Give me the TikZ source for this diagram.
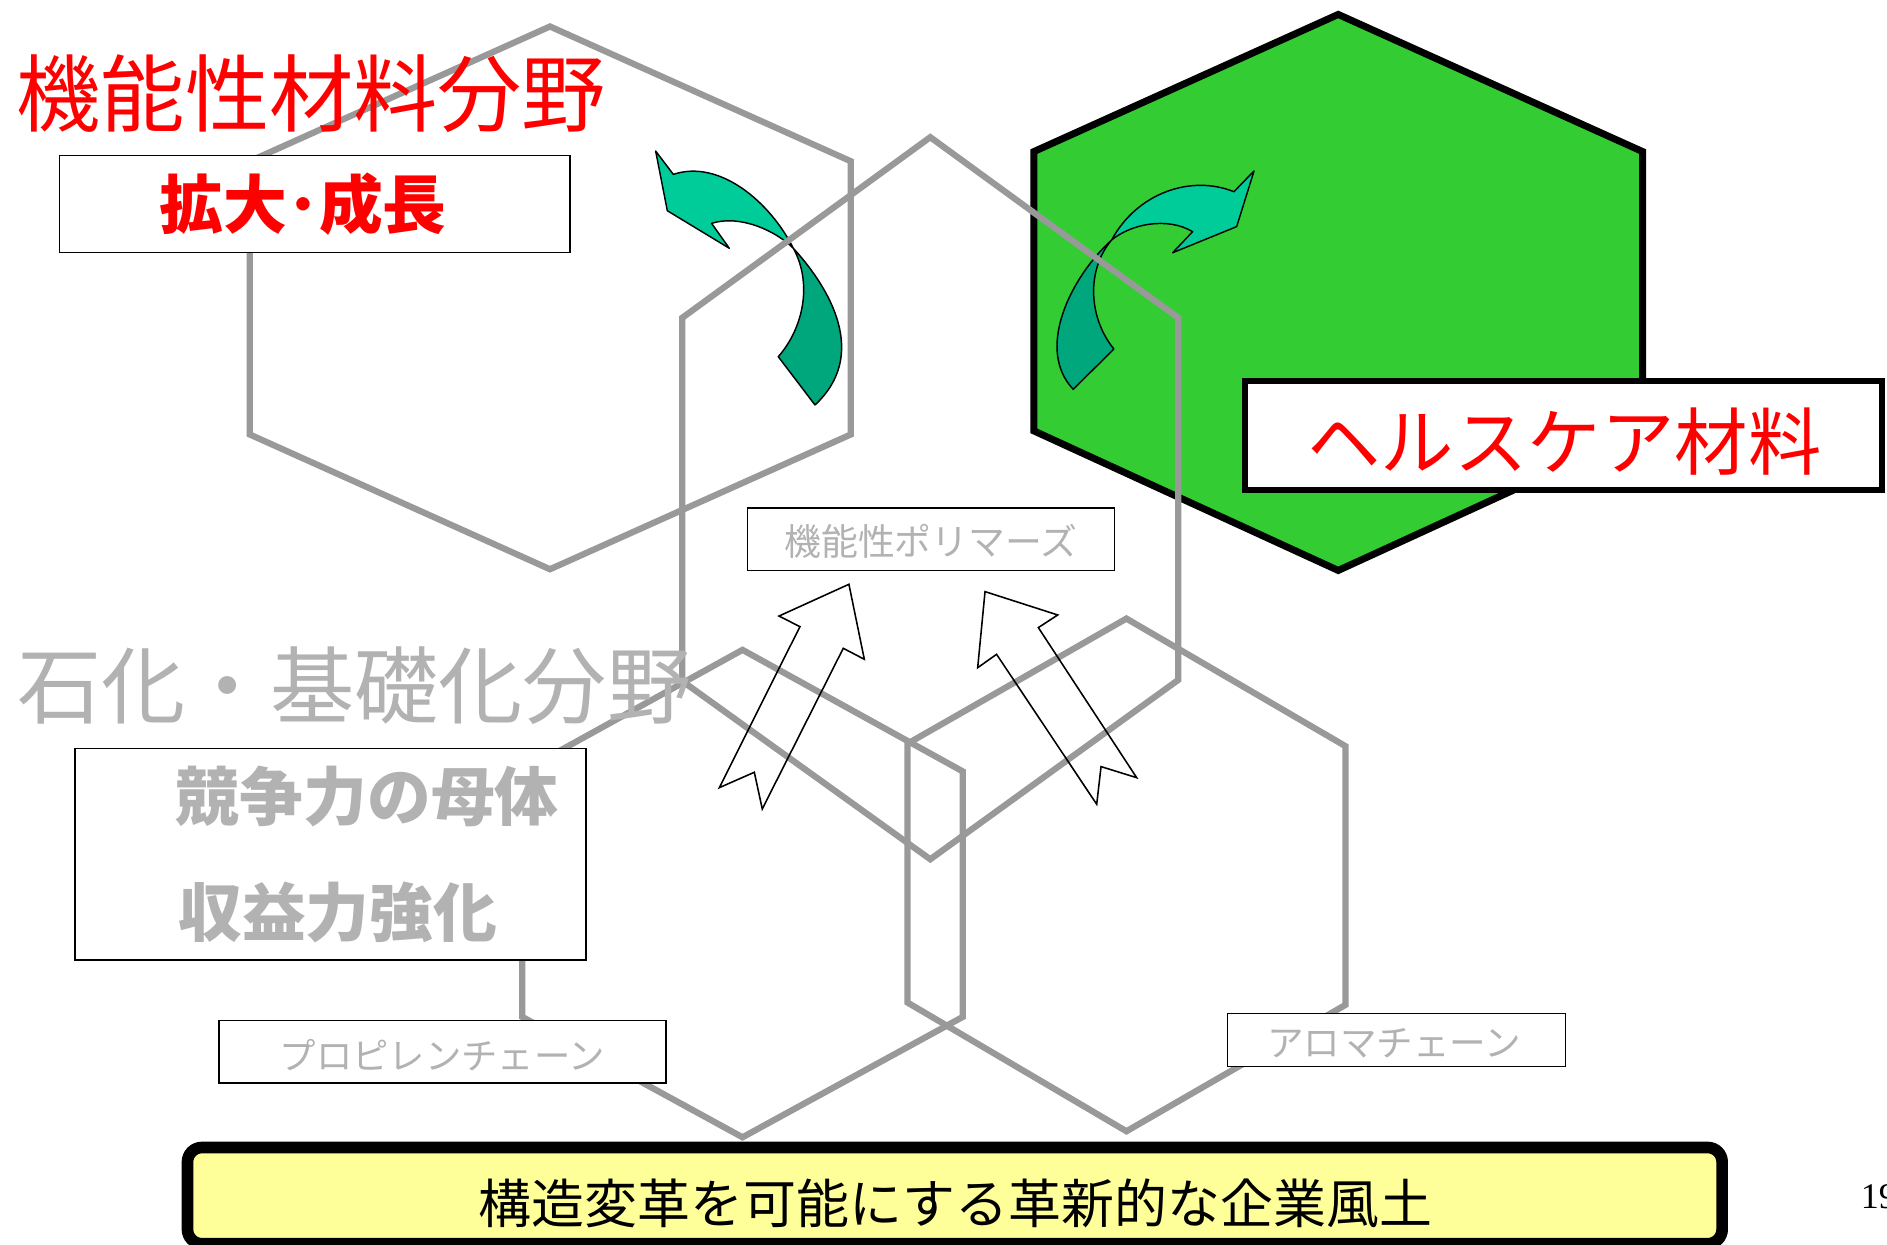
\documentclass[tikz,border=0pt]{standalone}
\usepackage{fontspec}
\setmainfont{Noto Sans CJK JP}
\newfontfamily\numfont{Liberation Serif}
\newcommand\myfs[1]{\fontsize{#1pt}{#1pt}\selectfont}
\definecolor{hexg}{HTML}{999999}
\definecolor{txtg}{HTML}{B2B2B2}
\definecolor{grn}{HTML}{33CC33}
\definecolor{tealL}{HTML}{00CC99}
\definecolor{tealD}{HTML}{00A67C}
\definecolor{yel}{HTML}{FFFF99}
\begin{document}
\begin{tikzpicture}[x=1pt,y=-1pt,
  hexline/.style={draw=hexg, line width=5.2pt, line join=miter, miter limit=10},
  thinbox/.style={draw=black, line width=1.2pt, fill=white, inner sep=0pt},
  graytxt/.style={text=txtg, inner sep=0pt},
  redtxt/.style={text=red, inner sep=0pt},
  tealarrow/.style={draw=black, line width=1.2pt, line join=round},
  hollowarrow/.style={draw=black, line width=1.3pt, line join=miter}]
\useasboundingbox (0,0) rectangle (1568,1034);

% green hexagon
\draw[fill=grn, draw=black, line width=5.8pt, line join=miter]
  (1112,12) -- (1365,126) -- (1365,358) -- (1112,474) -- (859,358) -- (859,126) -- cycle;

% teal curved arrows
\draw[tealarrow, fill=tealL] (544.8,125.5) -- (559.5,144.9)
  .. controls (598,132) and (640,168) .. (659.2,206.3)
  .. controls (645,192) and (615,178) .. (591.3,185.6)
  -- (606,206.3) -- (554.5,175.1) -- cycle;
\draw[tealarrow, fill=tealD] (659.2,206.3)
  .. controls (690,240) and (722,295) .. (677.2,336.5)
  -- (646.7,296.4)
  .. controls (668,272) and (675,235) .. (659.2,206.3) -- cycle;

\draw[tealarrow, fill=tealL] (1042,142.1) -- (1025.3,159.3)
  .. controls (990,145) and (945,160) .. (923.7,199.4)
  .. controls (940,186) and (970,180) .. (991,192.5)
  -- (974.4,210) -- (1027.6,188.3) -- cycle;
\draw[tealarrow, fill=tealD] (923.7,199.4)
  .. controls (890,230) and (860,290) .. (891.8,323.5)
  -- (925.6,290)
  .. controls (905,265) and (902,225) .. (923.7,199.4) -- cycle;

% gray hexagons
\draw[hexline] (457,22) -- (707,134) -- (707,361) -- (457,473) -- (207.5,361) -- (207.5,134) -- cycle;
\draw[hexline] (773,114) -- (979,264) -- (979,565) -- (773,714) -- (567,566) -- (567,264) -- cycle;
\draw[hexline] (617,540) -- (800,641) -- (800,845) -- (617,945) -- (434,845) -- (434,641) -- cycle;
\draw[hexline] (936,514) -- (1118,620) -- (1118,835) -- (936,940) -- (754,833) -- (754,618) -- cycle;

% hollow arrows
\draw[hollowarrow] (705.4,485.5) -- (718.2,547.8) -- (700.7,538.7) -- (633.4,672.2)
  -- (626.8,641.7) -- (597.7,654.5) -- (664.7,520.7) -- (647.3,511.9) -- cycle;
\draw[hollowarrow] (818.5,491.6) -- (878.9,511) -- (862.8,521.5) -- (944.5,646.2)
  -- (914.9,637) -- (911.3,668.3) -- (828.1,543.7) -- (812.4,554.8) -- cycle;

% titles
\node[redtxt, font=\myfs{70}] (title1) at (258.75,78) {機能性材料分野};
\node[graytxt, font=\myfs{70}] (title2) at (294.5,570) {石化・基礎化分野};

% boxes
\node[thinbox, minimum width=424pt, minimum height=80.5pt] (kbox) at (261.6,169.6) {};
\node[redtxt, font=\myfs{53}\bfseries] (ktxt) at (252,170) {拡大･成長};

\node[draw=black, fill=white, line width=5pt, inner sep=0pt,
      minimum width=529pt, minimum height=91pt] (hbox) at (1299,361.75) {};
\node[redtxt, font=\myfs{61}] (htxt) at (1300,367) {ヘルスケア材料};

\node[thinbox, minimum width=305pt, minimum height=52pt] (pbox) at (773.45,448) {};
\node[graytxt, font=\myfs{30.6}] (ptxt) at (773.5,450) {機能性ポリマーズ};

\node[thinbox, minimum width=424.5pt, minimum height=176pt] (sbox) at (274.7,709.75) {};
\node[graytxt, font=\myfs{53}\bfseries, anchor=west] (stxt1) at (146,661.5) {競争力の母体};
\node[graytxt, font=\myfs{53}\bfseries, anchor=west] (stxt2) at (148,757.8) {収益力強化};

\node[thinbox, minimum width=371.5pt, minimum height=52pt] (prbox) at (367.65,873.9) {};
\node[graytxt, font=\myfs{30.2}] (prtxt) at (367.6,876.5) {プロピレンチェーン};

\node[thinbox, minimum width=281pt, minimum height=44.4pt] (abox) at (1160.4,864.2) {};
\node[graytxt, font=\myfs{30.4}] (atxt) at (1158.5,866.5) {アロマチェーン};

\node[draw=black, fill=yel, line width=9.7pt, rounded corners=12pt, inner sep=0pt,
      minimum width=1275.2pt, minimum height=80pt] (ybox) at (793.4,993.5) {};
\node[inner sep=0pt, font=\myfs{44}] (ytxt) at (794,1000) {構造変革を可能にする革新的な企業風土};

\node[inner sep=0pt, anchor=west, font=\numfont\myfs{30}] (pnum) at (1546,994) {19};
\end{tikzpicture}
\end{document}
